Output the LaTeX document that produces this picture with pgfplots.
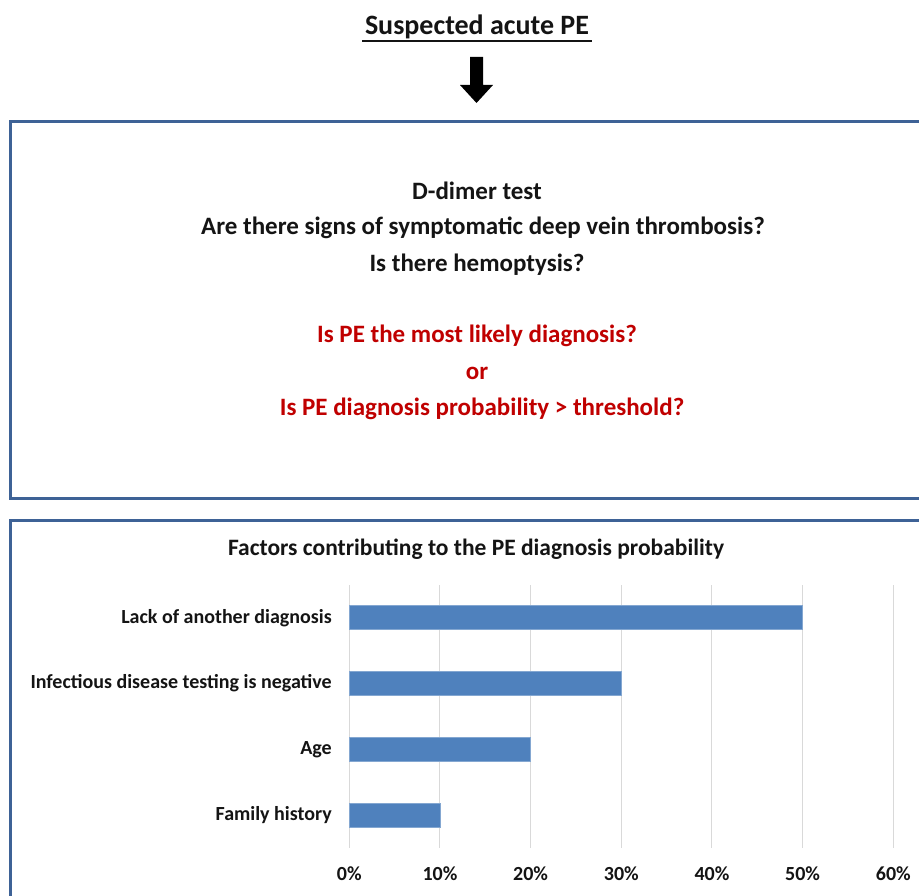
\documentclass[border=0pt]{standalone}
\usepackage{pgfplots}
\pgfplotsset{compat=1.18}
\usepackage{fontspec}
\setmainfont{Carlito}
\definecolor{boxblue}{RGB}{62,98,150}
\definecolor{barblue}{RGB}{79,129,189}
\definecolor{darkred}{RGB}{192,0,0}
\definecolor{gridgray}{RGB}{217,217,217}
\definecolor{txt}{RGB}{20,20,20}
\begin{document}
\begin{tikzpicture}[x=1pt,y=1pt]
\path[use as bounding box] (0,0) rectangle (919,896);
\clip (0,0) rectangle (919,896);
\fill[white] (0,0) rectangle (919,896);
% title
\node[font=\fontsize{28}{32}\selectfont\bfseries, text=txt] at (477,869) {Suspected acute PE};
\draw[txt, line width=2.5pt] (362,855) -- (592,855);
% arrow
\fill[black] (470,839) -- (483,839) -- (483,811) -- (493,811) -- (476.5,793) -- (460,811) -- (470,811) -- cycle;
% boxes
\draw[boxblue, line width=3pt] (10,774) rectangle (935,397);
\draw[boxblue, line width=3pt] (10,375) rectangle (935,-20);
% box 1 text
\begin{scope}[every node/.style={font=\fontsize{25}{29}\selectfont\bfseries}]
\node[text=txt] at (477,705) {D-dimer test};
\node[text=txt] at (483,668) {Are there signs of symptomatic deep vein thrombosis?};
\node[text=txt] at (477,631) {Is there hemoptysis?};
\node[text=darkred] at (477,560) {Is PE the most likely diagnosis?};
\node[text=darkred] at (477,523) {or};
\node[text=darkred] at (482,487) {Is PE diagnosis probability > threshold?};
\end{scope}
% chart title
\node[font=\fontsize{23.5}{27}\selectfont\bfseries, text=txt] at (476,347) {Factors contributing to the PE diagnosis probability};
\coordinate (A) at (349.3,48);
\begin{axis}[
  at={(A)}, anchor=south west,
  scale only axis, width=544pt, height=263pt,
  xbar, bar width=24pt,
  xmin=0, xmax=60, ymin=-0.5, ymax=3.5,
  xtick={0,10,20,30,40,50,60},
  xticklabels={0\%,10\%,20\%,30\%,40\%,50\%,60\%},
  ytick={0,1,2,3},
  yticklabels={Family history,Age,Infectious disease testing is negative,Lack of another diagnosis},
  xmajorgrids, major grid style={gridgray, line width=1pt},
  axis line style={draw=none},
  major tick length=0pt,
  ticklabel style={font=\fontsize{20}{24}\selectfont\bfseries, text=txt},
  xticklabel style={yshift=-15pt},
  yticklabel style={xshift=-14pt},
  clip=false,
]
\addplot[fill=barblue, draw=barblue!70!white, line width=0.8pt] coordinates {(10,0) (20,1) (30,2) (50,3)};
\end{axis}
\end{tikzpicture}
\end{document}
